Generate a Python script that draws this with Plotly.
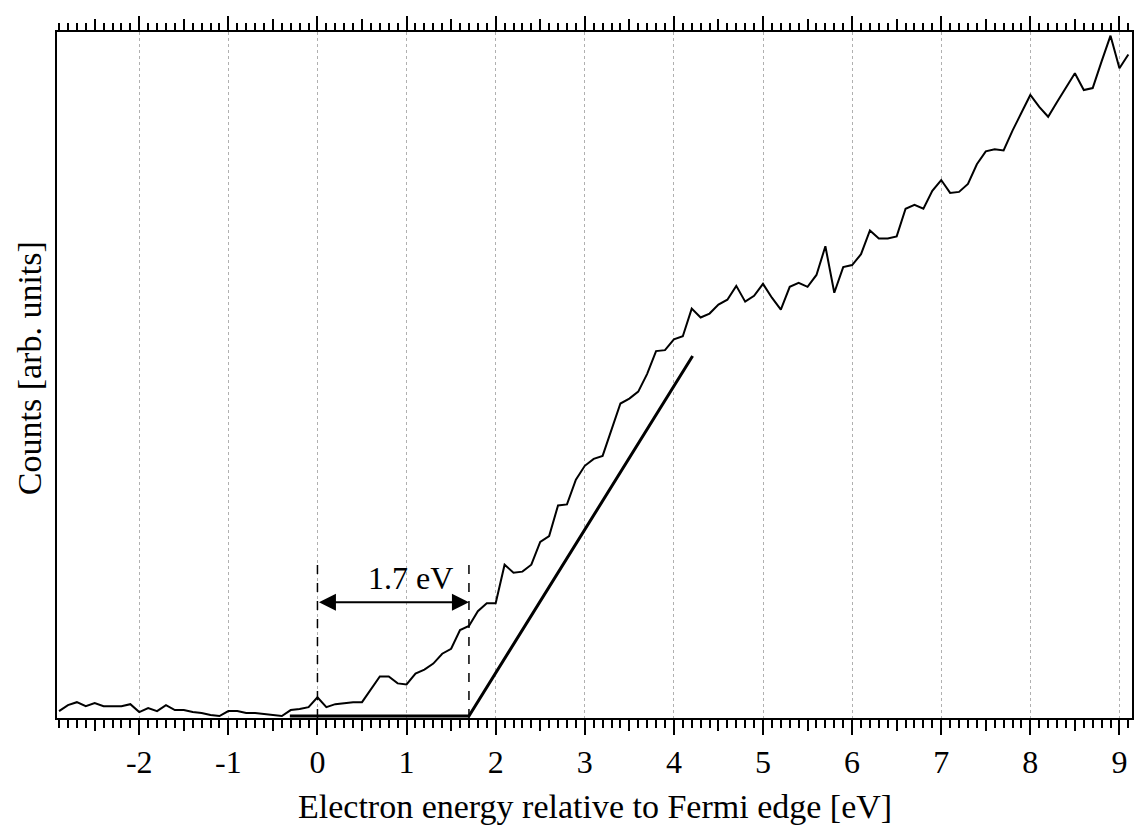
import plotly.graph_objects as go

# ---- data ----
energy = [round(-2.9 + 0.1 * i, 1) for i in range(121)]
counts = [
    7, 13, 16, 12, 15, 12, 12, 12, 14, 6,          # -2.9 .. -2.0
    10, 7, 13, 8, 8, 6, 5, 3, 2, 7,                # -1.9 .. -1.0
    7, 5, 5, 4, 3, 2, 8, 9, 11, 21,                # -0.9 .. 0.0
    11, 14, 15, 16, 16, 29, 42, 42, 35, 34,        # 0.1 .. 1.0
    45, 49, 55, 65, 70, 89, 93, 108, 116, 116,     # 1.1 .. 2.0
    155, 147, 148, 155, 178, 184, 215, 216, 241, 255,  # 2.1 .. 3.0
    262, 265, 291, 318, 323, 330, 348, 371, 372, 383,  # 3.1 .. 4.0
    386, 414, 405, 409, 418, 423, 437, 421, 427, 439,  # 4.1 .. 5.0
    425, 413, 436, 440, 436, 448, 477, 430, 456, 458,  # 5.1 .. 6.0
    469, 493, 485, 485, 487, 515, 519, 515, 533, 544,  # 6.1 .. 7.0
    531, 532, 540, 560, 573, 575, 574, 594, 612, 630,  # 7.1 .. 8.0
    618, 608, 623, 638, 652, 635, 637, 664, 690, 657,  # 8.1 .. 9.0
    671,                                               # 9.1
]

fit_x = [-0.31, 1.7, 4.21]
fit_y = [2, 2, 366]

marker_x = [0.0, 1.7]
marker_top = 160
arrow_y = 117
gap_label = "1.7 eV"
gap_label_pos = (1.04, 142)

x_range = [-2.923, 9.141]
y_range = [0, 693.7]
major_ticks = list(range(-2, 10))
major_text = [str(v) for v in major_ticks]
half_ticks = [v + 0.5 for v in range(-3, 10)]

FONT = "Liberation Serif, Times New Roman, serif"

# page body has an 8px margin: figure is sized so it ends at the window edge
W, H = 1135, 819
ML, MR, MT, MB = 49, 9, 16, 109
PW, PH = W - ML - MR, H - MT - MB

fig = go.Figure()

fig.add_trace(go.Scatter(x=energy, y=counts, mode="lines",
                         line=dict(color="black", width=2), showlegend=False))
fig.add_trace(go.Scatter(x=fit_x, y=fit_y, mode="lines",
                         line=dict(color="black", width=3), showlegend=False))
for mx in marker_x:
    fig.add_trace(go.Scatter(x=[mx, mx], y=[0, marker_top], mode="lines",
                             line=dict(color="black", width=1.5, dash="dash"),
                             showlegend=False))
# empty traces so the overlaid tick-only axes are drawn
for ax in ["x2", "x3", "x4"]:
    fig.add_trace(go.Scatter(x=[None], y=[None], xaxis=ax, yaxis="y",
                             mode="lines", showlegend=False, hoverinfo="skip"))

# double-headed arrow
fig.add_annotation(x=marker_x[1], y=arrow_y, ax=marker_x[0], ay=arrow_y,
                   xref="x", yref="y", axref="x", ayref="y",
                   text="", showarrow=True, arrowhead=2, startarrowhead=2,
                   arrowside="end+start", arrowsize=1.7, startarrowsize=1.7,
                   arrowwidth=2, arrowcolor="black")
fig.add_annotation(x=gap_label_pos[0], y=gap_label_pos[1], xref="x", yref="y",
                   text=gap_label, showarrow=False,
                   font=dict(family=FONT, size=32, color="black"))

# axis titles
fig.add_annotation(x=0.5, y=(-(808 - 718)) / PH, xref="paper", yref="paper",
                   text="Electron energy relative to Fermi edge [eV]", showarrow=False,
                   xanchor="center", yanchor="middle",
                   font=dict(family=FONT, size=34, color="black"))
fig.add_annotation(x=(29 - 57) / PW, y=0.51, xref="paper", yref="paper",
                   text="Counts [arb. units]", showarrow=False, textangle=-90,
                   xanchor="center", yanchor="middle",
                   font=dict(family=FONT, size=34, color="black"))

common = dict(range=x_range, showgrid=False, zeroline=False)
fig.update_layout(
    width=W, height=H,
    margin=dict(l=ML, r=MR, t=MT, b=MB),
    plot_bgcolor="white", paper_bgcolor="white",
    xaxis=dict(range=x_range, showline=True, linecolor="black", linewidth=2,
               ticks="outside", ticklen=15, tickwidth=2, tickcolor="black",
               tickmode="array", tickvals=major_ticks, ticktext=major_text,
               tickfont=dict(family=FONT, size=32, color="black"),
               showgrid=True, gridcolor="#b0b0b0", gridwidth=1, griddash="dot",
               zeroline=False, mirror=True,
               minor=dict(dtick=0.1, tick0=0, ticks="outside", ticklen=8,
                          tickwidth=1.5, tickcolor="black", showgrid=False)),
    xaxis2=dict(overlaying="x", anchor="y", side="bottom", **common,
                ticks="outside", ticklen=12, tickwidth=1.5, tickcolor="black",
                tickmode="array", tickvals=half_ticks, showticklabels=False,
                showline=False),
    xaxis3=dict(overlaying="x", anchor="y", side="top", **common,
                ticks="outside", ticklen=15, tickwidth=2, tickcolor="black",
                tickmode="array", tickvals=major_ticks, showticklabels=False,
                showline=False,
                minor=dict(dtick=0.1, tick0=0, ticks="outside", ticklen=8,
                           tickwidth=1.5, tickcolor="black", showgrid=False)),
    xaxis4=dict(overlaying="x", anchor="y", side="top", **common,
                ticks="outside", ticklen=12, tickwidth=1.5, tickcolor="black",
                tickmode="array", tickvals=half_ticks, showticklabels=False,
                showline=False),
    yaxis=dict(range=y_range, showline=True, linecolor="black", linewidth=2,
               mirror=True, ticks="", showticklabels=False, showgrid=False,
               zeroline=False),
)

fig.write_html("out.html")
